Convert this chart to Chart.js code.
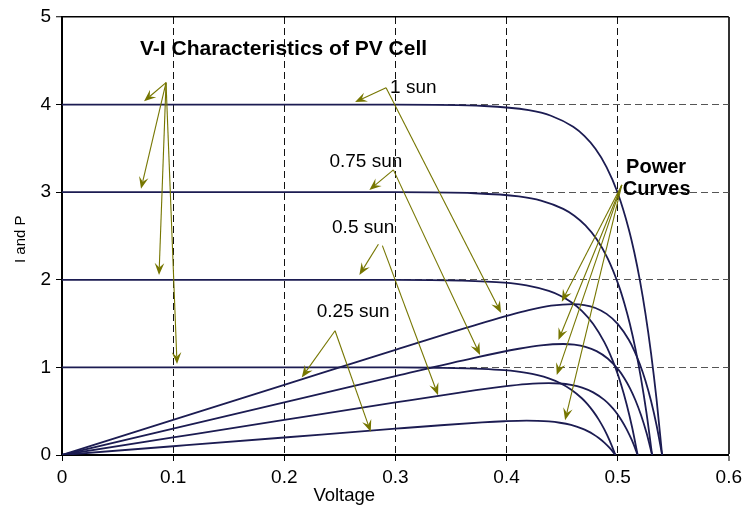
<!DOCTYPE html>
<html><head><meta charset="utf-8">
<script src="https://cdn.jsdelivr.net/npm/chart.js@4"></script>
<style>html,body{margin:0;padding:0;background:#fff;overflow:hidden}</style>
</head><body>
<canvas id="c" width="747" height="506"></canvas>
<script>
const FONT = '"Liberation Sans", Arial, Helvetica, sans-serif';
const NAVY = '#1c1c52';
const OLIVE = '#767600';

// tick values and labels
const xTicks = [0, 0.1, 0.2, 0.3, 0.4, 0.5, 0.6];
const xTickLabels = ['0', '0.1', '0.2', '0.3', '0.4', '0.5', '0.6'];
const yTicks = [0, 1, 2, 3, 4, 5];
const yTickLabels = ['0', '1', '2', '3', '4', '5'];

// 1 sun
const v1 = [0, 0.1, 0.2, 0.3, 0.38, 0.42, 0.44, 0.46, 0.47, 0.48, 0.49, 0.50, 0.51, 0.515, 0.52, 0.525, 0.53, 0.535, 0.54];
const i1 = [4, 4, 4, 4, 3.984, 3.936, 3.873, 3.746, 3.642, 3.495, 3.287, 2.993, 2.578, 2.311, 1.993, 1.615, 1.167, 0.634, 0];
const p1 = [0, 0.4, 0.8, 1.2, 1.514, 1.653, 1.704, 1.723, 1.712, 1.678, 1.611, 1.497, 1.315, 1.190, 1.036, 0.848, 0.619, 0.339, 0];
// 0.75 sun
const v2 = [0, 0.1, 0.2, 0.3, 0.371, 0.411, 0.431, 0.451, 0.461, 0.471, 0.481, 0.491, 0.501, 0.506, 0.511, 0.516, 0.521, 0.526, 0.531];
const i2 = [3, 3, 3, 3, 2.988, 2.952, 2.905, 2.810, 2.732, 2.621, 2.465, 2.245, 1.934, 1.733, 1.495, 1.211, 0.875, 0.475, 0];
const p2 = [0, 0.3, 0.6, 0.9, 1.109, 1.213, 1.252, 1.267, 1.259, 1.235, 1.186, 1.102, 0.969, 0.877, 0.764, 0.625, 0.456, 0.250, 0];
// 0.5 sun
const v3 = [0, 0.1, 0.2, 0.3, 0.358, 0.398, 0.418, 0.438, 0.448, 0.458, 0.468, 0.478, 0.488, 0.493, 0.498, 0.503, 0.508, 0.513, 0.518];
const i3 = [2, 2, 2, 2, 1.992, 1.968, 1.936, 1.873, 1.821, 1.747, 1.643, 1.496, 1.289, 1.155, 0.997, 0.808, 0.583, 0.317, 0];
const p3 = [0, 0.2, 0.4, 0.6, 0.713, 0.783, 0.809, 0.820, 0.816, 0.800, 0.769, 0.715, 0.629, 0.569, 0.497, 0.406, 0.296, 0.163, 0];
// 0.25 sun
const v4 = [0, 0.1, 0.2, 0.3, 0.338, 0.378, 0.398, 0.418, 0.428, 0.438, 0.448, 0.458, 0.468, 0.473, 0.478, 0.483, 0.488, 0.493, 0.498];
const i4 = [1, 1, 1, 1, 0.996, 0.984, 0.968, 0.937, 0.911, 0.874, 0.822, 0.748, 0.645, 0.578, 0.498, 0.404, 0.292, 0.158, 0];
const p4 = [0, 0.1, 0.2, 0.3, 0.337, 0.372, 0.385, 0.392, 0.390, 0.383, 0.368, 0.343, 0.302, 0.273, 0.238, 0.195, 0.142, 0.078, 0];

// annotation texts (positions in data units: [voltage, value])
const noteTexts = [
  {text: 'V-I Characteristics of PV Cell', at: [0.0702, 4.569], bold: true, size: 21},
  {text: '1 sun', at: [0.2952, 4.138], size: 19},
  {text: '0.75 sun', at: [0.2406, 3.293], size: 19},
  {text: '0.5 sun', at: [0.2430, 2.531], size: 19},
  {text: '0.25 sun', at: [0.2292, 1.571], size: 19},
  {text: 'Power', at: [0.5076, 3.221], bold: true, size: 20},
  {text: 'Curves', at: [0.5046, 2.969], bold: true, size: 20}
];
// annotation arrows (data units)
const noteArrows = [
  {from: [0.0936, 4.251], to: [0.0738, 4.038]},
  {from: [0.0936, 4.251], to: [0.0711, 3.038]},
  {from: [0.0936, 4.251], to: [0.0873, 2.055]},
  {from: [0.0936, 4.251], to: [0.1035, 1.038]},
  {from: [0.2916, 4.192], to: [0.2637, 4.029]},
  {from: [0.2916, 4.192], to: [0.3951, 1.621]},
  {from: [0.2982, 3.255], to: [0.2766, 3.026]},
  {from: [0.2982, 3.255], to: [0.3762, 1.142]},
  {from: [0.2847, 2.406], to: [0.2676, 2.055]},
  {from: [0.2883, 2.390], to: [0.3384, 0.683]},
  {from: [0.2457, 1.418], to: [0.2157, 0.886]},
  {from: [0.2457, 1.418], to: [0.2778, 0.264]},
  {from: [0.5037, 3.083], to: [0.4497, 1.750]},
  {from: [0.5037, 3.083], to: [0.4467, 1.312]},
  {from: [0.5037, 3.083], to: [0.4452, 0.912]},
  {from: [0.5037, 3.083], to: [0.4527, 0.398]}
];
const xTitle = {text: 'Voltage', at: 0.2262};
const yTitle = {text: 'I and P', at: 2.192};

function pts(vs, ys) { return vs.map((v, k) => ({x: v, y: ys[k]})); }
const series = [
  ['I 1 sun', v1, i1], ['P 1 sun', v1, p1],
  ['I 0.75 sun', v2, i2], ['P 0.75 sun', v2, p2],
  ['I 0.5 sun', v3, i3], ['P 0.5 sun', v3, p3],
  ['I 0.25 sun', v4, i4], ['P 0.25 sun', v4, p4]
];

const annot = {
  id: 'annot',
  afterDatasetsDraw(chart) {
    const {ctx, chartArea} = chart;
    const xs = chart.scales.x, ys = chart.scales.y;
    const px = v => xs.getPixelForValue(v), py = v => ys.getPixelForValue(v);
    ctx.save();
    ctx.strokeStyle = OLIVE; ctx.fillStyle = OLIVE; ctx.lineWidth = 1.1;
    noteArrows.forEach(a => {
      const x0 = px(a.from[0]), y0 = py(a.from[1]), x1 = px(a.to[0]), y1 = py(a.to[1]);
      const dx = x1 - x0, dy = y1 - y0, len = Math.hypot(dx, dy);
      const ux = dx / len, uy = dy / len, nx = -uy, ny = ux;
      const L = 12, W = 4.8, N = 0.62;
      ctx.beginPath(); ctx.moveTo(x0, y0); ctx.lineTo(x1 - ux * L * N, y1 - uy * L * N); ctx.stroke();
      ctx.beginPath();
      ctx.moveTo(x1, y1);
      ctx.lineTo(x1 - ux * L + nx * W, y1 - uy * L + ny * W);
      ctx.lineTo(x1 - ux * L * N, y1 - uy * L * N);
      ctx.lineTo(x1 - ux * L - nx * W, y1 - uy * L - ny * W);
      ctx.closePath(); ctx.fill();
    });
    ctx.fillStyle = '#000';
    ctx.textAlign = 'left'; ctx.textBaseline = 'alphabetic';
    noteTexts.forEach(t => {
      ctx.font = (t.bold ? 'bold ' : '') + t.size + 'px ' + FONT;
      ctx.fillText(t.text, px(t.at[0]), py(t.at[1]));
    });
    ctx.font = '18.5px ' + FONT;
    ctx.fillText(xTitle.text, px(xTitle.at), chartArea.bottom + 46);
    ctx.save();
    ctx.translate(chartArea.left - 37.5, py(yTitle.at));
    ctx.rotate(-Math.PI / 2);
    ctx.font = '15px ' + FONT;
    ctx.fillText(yTitle.text, 0, 0);
    ctx.restore();
    ctx.restore();
  }
};

new Chart(document.getElementById('c'), {
  type: 'line',
  data: {
    datasets: series.map(s => ({
      label: s[0], data: pts(s[1], s[2]),
      borderColor: NAVY, borderWidth: 1.8, pointRadius: 0, fill: false,
      cubicInterpolationMode: 'monotone'
    }))
  },
  options: {
    responsive: false, animation: false, devicePixelRatio: 1,
    layout: {padding: {top: 17, right: 18, left: 0, bottom: 0}},
    plugins: {legend: {display: false}, tooltip: {enabled: false}},
    scales: {
      x: {
        type: 'linear', min: 0, max: 0.6,
        afterBuildTicks: s => { s.ticks = xTicks.map(v => ({value: v})); },
        afterFit: s => { s.height = 51; },
        ticks: {
          color: '#000', padding: 5, maxRotation: 0, autoSkip: false,
          font: {family: FONT, size: 19},
          callback: (v, idx) => xTickLabels[idx]
        },
        grid: {
          drawTicks: true, tickLength: 6, tickColor: '#000', tickWidth: 1,
          color: c => (c.tick && c.tick.value === 0.6) ? '#333' : '#111',
          lineWidth: c => (c.tick && c.tick.value === 0.6) ? 2 : 1
        },
        border: {
          display: true, color: '#000', width: 2,
          dash: c => (c.tick && c.tick.value > 0 && c.tick.value < 0.6) ? [7, 4] : []
        }
      },
      y: {
        type: 'linear', min: 0, max: 5,
        afterBuildTicks: s => { s.ticks = yTicks.map(v => ({value: v})); },
        afterFit: s => { s.width = 62; },
        ticks: {
          color: '#000', padding: 5, autoSkip: false,
          font: {family: FONT, size: 19},
          callback: (v, idx) => yTickLabels[idx]
        },
        grid: {
          drawTicks: true, tickLength: 6, tickColor: '#000', tickWidth: 1,
          color: c => (c.tick && c.tick.value === 5) ? '#000' : '#555',
          lineWidth: c => (c.tick && c.tick.value === 5) ? 1.5 : 1
        },
        border: {
          display: true, color: '#000', width: 2,
          dash: c => (c.tick && c.tick.value > 0 && c.tick.value < 5) ? [7, 4] : []
        }
      }
    }
  },
  plugins: [annot]
});
</script>
</body></html>
